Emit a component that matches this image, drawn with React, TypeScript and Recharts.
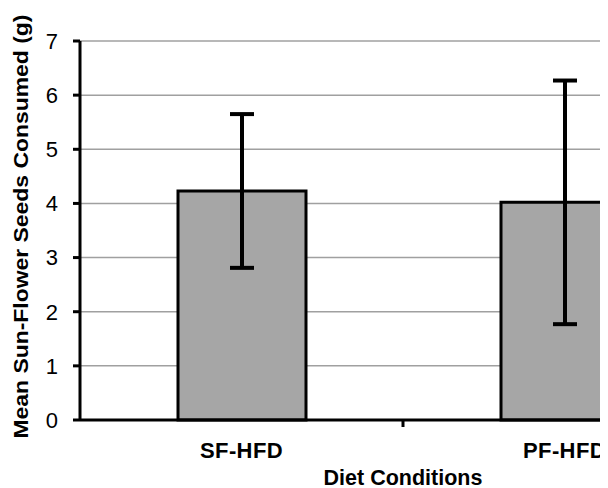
import React from "react";
import { BarChart, Bar, XAxis, YAxis, CartesianGrid, ErrorBar } from "recharts";

const categories = ["SF-HFD", "PF-HFD"];
const means = [4.23, 4.02];
const errors = [1.42, 2.25];
const yTicks = [0, 1, 2, 3, 4, 5, 6, 7];

const data = categories.map((c, i) => ({ name: c, mean: means[i], err: errors[i] }));

const FONT = "'Liberation Sans', Arial, Helvetica, sans-serif";

const YLabel = (props: any) => {
  const vb = props.viewBox || {};
  const cx = 12;
  const cy = vb.y + vb.height / 2 - 4;
  return (
    <text
      x={cx}
      y={cy}
      transform={`rotate(-90, ${cx}, ${cy})`}
      textAnchor="middle"
      dominantBaseline="central"
      fontFamily={FONT}
      fontWeight="bold"
      fontSize={21}
      fill="#000"
      textLength={424}
      lengthAdjust="spacingAndGlyphs"
    >
      Mean  Sun-Flower Seeds Consumed (g)
    </text>
  );
};

const CatTick = (props: any) => {
  const { x, y, payload, index } = props;
  const half = payload && payload.offset ? payload.offset : 0;
  const axisY = y - 22;
  const isLast = index === categories.length - 1;
  return (
    <g>
      {!isLast && half > 0 && (
        <line
          x1={x + half}
          x2={x + half}
          y1={axisY}
          y2={axisY + 7}
          stroke="#000"
          strokeWidth={3}
        />
      )}
      <text
        x={x}
        y={axisY + 22}
        dy="0.71em"
        textAnchor="middle"
        fontFamily={FONT}
        fontWeight="bold"
        fontSize={22}
        letterSpacing={0.4}
        fill="#000"
      >
        {payload.value}
      </text>
    </g>
  );
};

export default function App() {
  return (
    <div style={{ width: 600, height: 480, overflow: "hidden" }}>
      <BarChart
        width={728}
        height={480}
        data={data}
        margin={{ top: 33, right: 10, left: 0, bottom: 0 }}
      >
        <CartesianGrid horizontal vertical={false} stroke="#a0a0a0" strokeWidth={1.5} />
        <XAxis
          dataKey="name"
          height={68}
          axisLine={{ stroke: "#000", strokeWidth: 3 }}
          tickLine={false}
          tickSize={6}
          tickMargin={16}
          interval={0}
          tick={<CatTick />}
          label={{
            value: "Diet Conditions",
            position: "insideBottom",
            offset: 3,
            style: { fontFamily: FONT, fontWeight: "bold", fontSize: 21.5, fill: "#000" },
          }}
        />
        <YAxis
          width={72}
          domain={[0, 7]}
          ticks={yTicks}
          interval={0}
          axisLine={{ stroke: "#000", strokeWidth: 3 }}
          tickLine={{ stroke: "#000", strokeWidth: 3 }}
          tickSize={7}
          tickMargin={15}
          tick={{ fontFamily: FONT, fontSize: 22, fill: "#000" }}
          label={<YLabel />}
        />
        <Bar
          dataKey="mean"
          fill="#a6a6a6"
          stroke="#000"
          strokeWidth={3}
          barSize={128}
          isAnimationActive={false}
        >
          <ErrorBar dataKey="err" stroke="#000" strokeWidth={4} width={12} />
        </Bar>
      </BarChart>
    </div>
  );
}
